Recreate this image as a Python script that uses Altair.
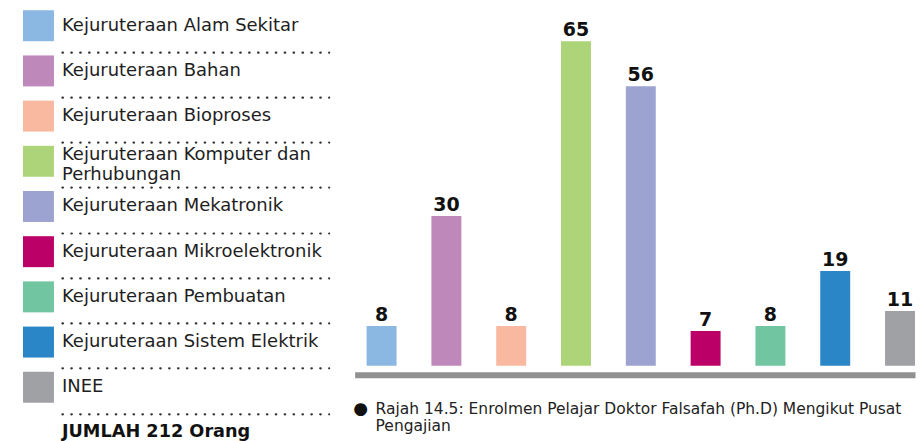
import altair as alt
import pandas as pd

categories = [
    "Kejuruteraan Alam Sekitar",
    "Kejuruteraan Bahan",
    "Kejuruteraan Bioproses",
    "Kejuruteraan Komputer dan\nPerhubungan",
    "Kejuruteraan Mekatronik",
    "Kejuruteraan Mikroelektronik",
    "Kejuruteraan Pembuatan",
    "Kejuruteraan Sistem Elektrik",
    "INEE",
]
values = [8, 30, 8, 65, 56, 7, 8, 19, 11]
colors = ["#8bb8e2", "#bf88bb", "#f9b9a1", "#add478", "#9da3d1",
          "#bb0068", "#71c5a0", "#2b86c8", "#a0a1a4"]
total_label = f"JUMLAH {sum(values)} Orang"
caption_lines = ["Rajah 14.5: Enrolmen Pelajar Doktor Falsafah (Ph.D) Mengikut Pusat",
                 "Pengajian"]

FONT = "DejaVu Sans"

bars_df = pd.DataFrame({"cat": categories, "value": values})
rows = categories + [total_label]
legend_df = pd.DataFrame({"cat": rows, "idx": list(range(len(rows))),
                          "kind": ["item"] * len(categories) + ["total"]})
item_df = legend_df[legend_df.kind == "item"]
single_df = item_df[~item_df.cat.str.contains("\n")]
multi_df = item_df[item_df.cat.str.contains("\n")]
total_df = legend_df[legend_df.kind == "total"]
cap1_df = pd.DataFrame({"t": [caption_lines[0]], "b": ["\u25cf"]})
cap2_df = pd.DataFrame({"t": [caption_lines[1]]})

cscale = alt.Scale(domain=categories, range=colors)

# ---------- legend panel (plot area = extent of the dotted separators) ----------
sep_positions = [i - 0.42 for i in range(1, len(rows))]
ly = alt.Y("idx:Q",
           scale=alt.Scale(domain=[-0.387, 9.184], nice=False, zero=False, reverse=True),
           axis=alt.Axis(values=sep_positions, grid=True, gridDash=[0.5, 8.4], gridCap="round",
                         gridWidth=2.2, gridColor="#333333", labels=False, ticks=False,
                         domain=False, title=None))

squares = alt.Chart(item_df).mark_square(size=961, opacity=1).encode(
    x=alt.value(-23.5), y=ly, color=alt.Color("cat:N", scale=cscale, legend=None))
labels = alt.Chart(single_df).mark_text(
    align="left", baseline="middle", font=FONT, fontSize=18,
    color="#1e1e1e").encode(x=alt.value(0), y=ly, text="cat:N")
labels2 = alt.Chart(multi_df).mark_text(
    align="left", baseline="middle", font=FONT, fontSize=18, lineBreak="\n",
    lineHeight=20, dy=-6, color="#1e1e1e").encode(x=alt.value(0), y=ly, text="cat:N")
total = alt.Chart(total_df).mark_text(
    align="left", baseline="middle", font=FONT, fontSize=17.7, fontWeight="bold",
    color="#111111").encode(x=alt.value(0), y=ly, text="cat:N")

legend = alt.layer(squares, labels, labels2, total).properties(width=267, height=433)

# ---------- bar panel (x-axis domain line = thick grey baseline) ----------
bx = alt.X("cat:N", scale=alt.Scale(domain=categories, paddingInner=0.5378,
                                    paddingOuter=0.0925, align=1),
           axis=alt.Axis(domain=True, domainWidth=6, domainColor="#919191", ticks=False,
                         labels=False, grid=False, title=None))
by = alt.Y("value:Q", scale=alt.Scale(domain=[-1.8, 71.6], nice=False, zero=False), axis=None)

bars = alt.Chart(bars_df).mark_bar().encode(
    x=bx, y=by, color=alt.Color("cat:N", scale=cscale, legend=None))
vlabels = alt.Chart(bars_df).mark_text(
    dy=-5, baseline="alphabetic", font=FONT, fontSize=19, fontWeight="bold",
    color="#111111").encode(x=bx, y=by, text="value:Q")
bullet = alt.Chart(cap1_df).mark_text(
    align="center", baseline="middle", font=FONT, fontSize=17, color="#111111").encode(
    x=alt.value(6), y=alt.value(401), text="b:N")
cap1 = alt.Chart(cap1_df).mark_text(
    align="left", baseline="alphabetic", font=FONT, fontSize=15.5, color="#222222").encode(
    x=alt.value(21), y=alt.value(406), text="t:N")
cap2 = alt.Chart(cap2_df).mark_text(
    align="left", baseline="alphabetic", font=FONT, fontSize=15.5, color="#222222").encode(
    x=alt.value(21), y=alt.value(423), text="t:N")

barpanel = alt.layer(bars, vlabels, bullet, cap1, cap2).properties(width=561, height=367)

chart = alt.hconcat(legend, barpanel, spacing=26, bounds="flush").properties(
    padding={"left": 15, "top": 0, "right": 0, "bottom": 0}
).configure_view(stroke=None)

chart.save("out.html", embed_options={"renderer": "svg", "actions": False})
